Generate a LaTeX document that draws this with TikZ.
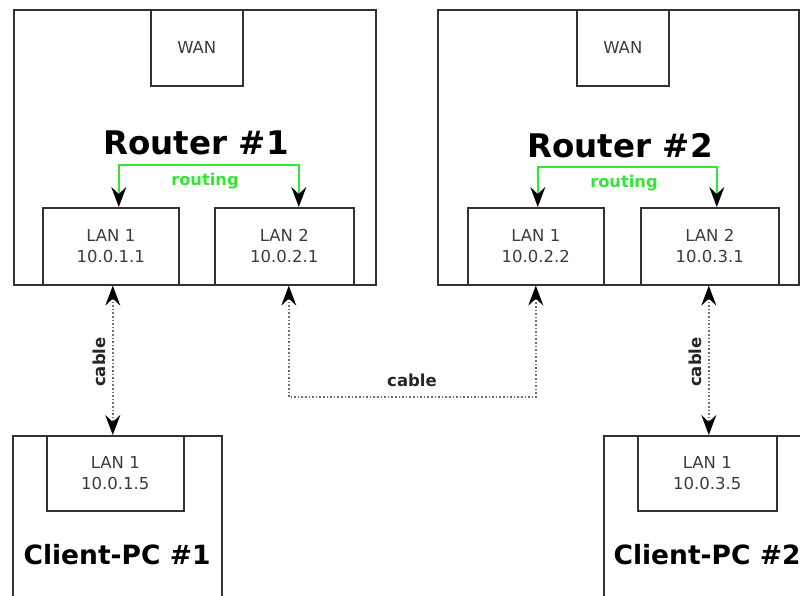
\documentclass[tikz,border=0pt]{standalone}
\usepackage{fontspec}
\setmainfont{DejaVu Sans}
\usetikzlibrary{arrows.meta,calc}
\definecolor{routegreen}{RGB}{50,230,50}
\definecolor{boxline}{RGB}{50,50,50}
\definecolor{cablegray}{RGB}{110,110,110}
\definecolor{smalltext}{RGB}{60,60,60}
\tikzset{
  mytip/.tip={Stealth[length=20pt,width=15pt,inset=7pt,black]},
  box/.style={draw=boxline, line width=1.6pt, inner sep=0pt, fill=white},
  port/.style={box, font=\fontsize{16.5}{21}\selectfont, text=smalltext, align=center},
  rtitle/.style={font=\bfseries\fontsize{32.5}{38}\selectfont, text=black},
  pctitle/.style={font=\bfseries\fontsize{26.5}{32}\selectfont, text=black},
  cable/.style={draw=cablegray, line width=1.6pt, dotted, mytip-mytip},
  cablelabel/.style={font=\bfseries\fontsize{16.5}{18}\selectfont, text=black!85},
  routing/.style={draw=routegreen, line width=1.6pt, mytip-mytip},
  routinglabel/.style={font=\bfseries\fontsize{16.3}{18}\selectfont, text=routegreen},
}
\begin{document}
\begin{tikzpicture}[x=1pt,y=-1pt]
\useasboundingbox (0,0) rectangle (800,595);
\clip (0,0) rectangle (800,595);

% Router 1
\node[box, minimum width=362pt, minimum height=275pt, anchor=north west] (r1) at (13,9) {};
\node[port, minimum width=92pt, minimum height=76pt, anchor=north west] (wan1) at (150,9) {WAN};
\node[rtitle] (r1t) at (196,142.5) {Router \#1};
\node[port, minimum width=136pt, minimum height=77pt, anchor=north west] (lan11) at (42,207) {LAN 1\\10.0.1.1};
\node[port, minimum width=139pt, minimum height=77pt, anchor=north west] (lan12) at (214,207) {LAN 2\\10.0.2.1};
\coordinate (g1) at (208,165);
\draw[routing] ([xshift=8pt]lan11.north) |- (g1) -| ([xshift=14.5pt]lan12.north);
\node[routinglabel] (rt1) at (205,181) {routing};

% Router 2
\node[box, minimum width=361pt, minimum height=275pt, anchor=north west] (r2) at (437,9) {};
\node[port, minimum width=92pt, minimum height=76pt, anchor=north west] (wan2) at (576,9) {WAN};
\node[rtitle] (r2t) at (620,145.5) {Router \#2};
\node[port, minimum width=136pt, minimum height=77pt, anchor=north west] (lan21) at (467,207) {LAN 1\\10.0.2.2};
\node[port, minimum width=138pt, minimum height=77pt, anchor=north west] (lan22) at (640,207) {LAN 2\\10.0.3.1};
\coordinate (g2) at (626,167);
\draw[routing] ([xshift=2pt]lan21.north) |- (g2) -| ([xshift=7pt]lan22.north);
\node[routinglabel] (rt2) at (624,183) {routing};

% Client PC 1
\node[box, minimum width=209pt, minimum height=200pt, anchor=north west] (pc1) at (12,435) {};
\node[port, minimum width=137pt, minimum height=75pt, anchor=north west] (pc1lan) at (46,435) {LAN 1\\10.0.1.5};
\node[pctitle] (pc1t) at (117,555) {Client-PC \#1};

% Client PC 2
\node[box, minimum width=209pt, minimum height=200pt, anchor=north west] (pc2) at (603,435) {};
\node[port, minimum width=139pt, minimum height=75pt, anchor=north west] (pc2lan) at (637,435) {LAN 1\\10.0.3.5};
\node[pctitle] (pc2t) at (707,555) {Client-PC \#2};

% cables
\coordinate (c1a) at ([xshift=2pt]lan11.south);
\draw[cable] (c1a) -- (c1a |- pc1.north);
\node[cablelabel, rotate=90] (cl1) at (99,362) {cable};

\coordinate (cm) at (412,397);
\draw[cable] ([xshift=4.5pt]lan12.south) |- (cm) -| (lan21.south);
\node[cablelabel] (cl2) at (412,380) {cable};

\coordinate (c3a) at ([xshift=-1pt]lan22.south);
\draw[cable] (c3a) -- (c3a |- pc2.north);
\node[cablelabel, rotate=90] (cl3) at (695,362) {cable};
\end{tikzpicture}
\end{document}
